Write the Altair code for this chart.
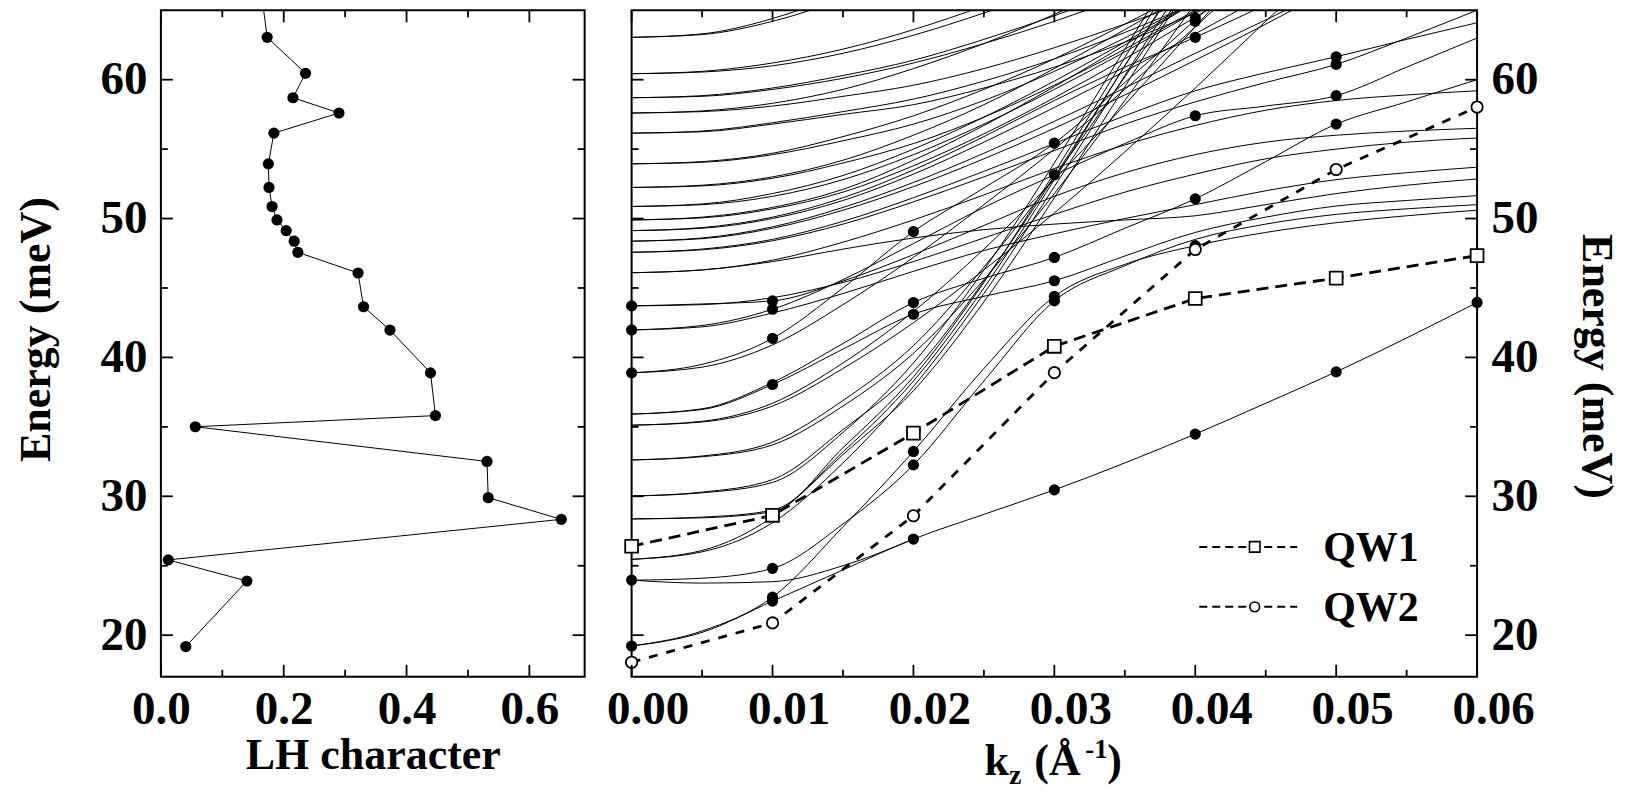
import altair as alt
import pandas as pd

FONT = "Liberation Serif"

# ---------------- left panel: LH character of the k=0 states ----------------
lh_character = [0.163, 0.173, 0.2355, 0.215, 0.290, 0.184, 0.175, 0.176, 0.181,
                0.189, 0.204, 0.217, 0.223, 0.321, 0.330, 0.373, 0.439, 0.447,
                0.056, 0.531, 0.533, 0.652, 0.012, 0.140, 0.0405]
lh_energy = [66.5, 63.05, 60.46, 58.70, 57.60, 56.15, 53.94, 52.24, 50.87,
             49.90, 49.13, 48.37, 47.57, 46.08, 43.65, 41.97, 38.89, 35.81,
             35.01, 32.51, 29.90, 28.34, 25.42, 23.90, 19.18]

# ---------------- right panel: subband dispersion ----------------
k_grid = [0.0, 0.005, 0.01, 0.015, 0.02, 0.025, 0.03, 0.035, 0.04, 0.045, 0.05, 0.055, 0.06]

c01 = [19.22, 20.2, 22.45, 24.7, 26.92, 28.7, 30.46, 32.4, 34.48, 36.7, 38.96, 41.4, 43.96]
c02 = [19.22, 20.3, 22.74, 27.8, 33.23, 39.2, 44.39, 46.7, 48.05, 49.0, 49.7, 50.2, 50.6]
c03 = [23.96, 24.1, 24.81, 28.0, 32.26, 38.3, 44.07, 46.6, 48.5, 49.6, 50.3, 50.7, 51.0]
c04 = [23.96, 23.75, 23.85, 25.0, 26.92]
c05 = [25.46, 26.1, 28.5, 33.0, 37.6, 44.0, 51.5, 59.5, 67.5]
c06 = [25.46, 26.0, 28.1, 32.4, 37.9, 44.6, 52.3, 60.3, 68.3]
c07 = [28.37, 28.5, 29.0, 33.2, 38.3, 45.0, 52.8, 61.0, 69.2]
c08 = [28.37, 28.45, 28.9, 33.5, 38.6, 45.4, 53.3, 61.6, 70.0]
c09 = [30.02, 30.3, 31.2, 34.8, 39.0, 45.5, 53.0, 61.0, 69.0]
c10 = [30.02, 30.25, 31.0, 34.6, 39.6, 46.3, 54.0, 62.2, 70.4]
c11 = [32.62, 32.9, 33.9, 36.9, 40.85, 46.5, 53.0, 60.2, 67.5]
c12 = [32.62, 32.85, 33.7, 36.5, 40.3, 45.6, 51.8, 58.5, 65.5]
c13 = [35.92, 36.3, 38.2, 41.0, 43.95, 45.7, 47.2, 49.3, 51.42, 54.1, 56.8, 58.4, 60.0]
c14 = [35.92, 36.25, 38.05, 40.6, 43.11, 44.4, 45.52, 47.3, 49.0, 50.1, 50.9, 51.3, 51.65]
c15 = [35.12, 35.4, 36.7, 39.6, 43.3, 47.8, 52.8, 58.2, 63.8, 69.5]
c16 = [35.12, 35.35, 36.5, 39.2, 42.5, 46.3, 50.4, 54.8, 59.4, 64.2, 69.0]
c17 = [38.89, 39.5, 41.37, 45.0, 49.06, 52.2, 55.43, 59.8, 64.3, 69.0]
c18 = [41.98, 42.3, 43.47, 45.6, 48.2, 50.8, 53.15, 55.4, 57.4, 58.1, 58.85, 60.9, 63.0]
c19 = [41.98, 42.2, 43.2, 44.6, 46.2, 47.7, 48.9, 50.0, 51.0, 52.0, 52.8, 53.3, 53.7]
c20 = [38.89, 39.3, 40.9, 43.8, 47.2, 51.0, 55.0, 59.3, 63.8, 68.5]
c21 = [43.71, 43.85, 44.07, 45.5, 47.4, 49.5, 51.6, 53.3, 54.6, 55.5, 56.0, 56.3, 56.5]
c22 = [43.71, 43.8, 44.3, 45.4, 46.9, 48.6, 50.3, 51.9, 53.2, 54.3, 55.0, 55.5, 55.8]
c23 = [46.10, 46.3, 47.0, 48.3, 49.9, 51.7, 53.6, 55.3, 56.7, 57.8, 58.5, 58.9, 59.2]
c24 = [46.10, 46.3, 46.9, 47.8, 48.6, 49.2, 49.6, 49.9, 50.2, 51.0, 51.8, 52.4, 52.85]
c25 = [47.57, 47.8, 48.5, 49.8, 51.5, 53.4, 55.4, 57.4, 59.2, 60.5, 61.65, 62.9, 64.1]
c26 = [47.57, 47.75, 48.4, 49.6, 51.2, 53.0, 54.9, 56.8, 58.4, 59.8, 61.1, 63.0, 65.0]
c27 = [48.37, 48.6, 49.4, 50.8, 52.6, 54.7, 57.0, 59.4, 61.9, 64.3, 66.8]
c28 = [48.37, 48.55, 49.3, 50.6, 52.3, 54.3, 56.5, 58.9, 61.4, 64.0, 66.7]
c29 = [49.13, 49.35, 50.1, 51.5, 53.5, 55.9, 58.5, 60.9, 63.05, 65.4, 67.8]
c30 = [49.13, 49.3, 50.0, 51.3, 53.2, 55.5, 58.0, 60.6, 63.3, 66.1]
c31 = [49.90, 50.1, 50.8, 52.1, 54.2, 56.7, 59.5, 62.5, 65.6]
c32 = [49.90, 50.05, 50.7, 51.9, 53.8, 56.1, 58.7, 61.5, 64.5, 67.5]
c33 = [50.87, 51.05, 51.8, 53.1, 55.0, 57.3, 59.9, 62.7, 65.6]
c34 = [50.87, 51.0, 51.6, 52.8, 54.6, 56.8, 59.3, 62.0, 64.9, 67.8]
c35 = [52.24, 52.4, 53.0, 54.2, 56.0, 58.2, 60.8, 63.6, 66.5]
c36 = [52.24, 52.35, 52.9, 54.0, 55.4, 57.3, 59.6, 62.2, 65.0, 67.8]
c37 = [53.94, 54.1, 54.7, 55.9, 57.4, 59.3, 61.5, 64.0, 66.6]
c38 = [53.94, 54.05, 54.6, 55.6, 56.8, 58.5, 60.6, 63.0, 65.6]
c39 = [56.15, 56.3, 56.9, 57.7, 58.6, 59.9, 61.5, 63.4, 65.5]
c40 = [56.15, 56.25, 56.8, 57.5, 58.2, 59.4, 60.9, 62.7, 64.8, 67.0]
c41 = [57.60, 57.75, 58.3, 59.3, 60.8, 62.6, 64.7, 67.0]
c42 = [57.60, 57.7, 58.1, 58.8, 59.6, 60.8, 62.3, 64.0, 65.8]
c43 = [58.70, 58.85, 59.4, 60.3, 61.4, 62.9, 64.6, 66.5]
c44 = [58.70, 58.8, 59.3, 60.1, 61.2, 62.6, 64.2, 66.0]
c45 = [60.43, 60.6, 61.2, 62.2, 63.6, 65.3]
c46 = [60.43, 60.55, 61.0, 61.9, 63.2, 64.8, 66.6]
c47 = [63.05, 63.3, 64.4, 66.2]
c48 = [63.05, 63.25, 64.2, 65.8]

curves = [c01, c02, c03, c04, c05, c06, c07, c08, c09, c10, c11, c12, c13, c14, c15, c16,
          c17, c18, c19, c20, c21, c22, c23, c24, c25, c26, c27, c28, c29, c30, c31, c32,
          c33, c34, c35, c36, c37, c38, c39, c40, c41, c42, c43, c44, c45, c46, c47, c48]

# filled dots on the dispersion
dot_k = [0.0, 0.0, 0.0, 0.0, 0.0,
         0.01, 0.01, 0.01, 0.01, 0.01, 0.01, 0.01,
         0.02, 0.02, 0.02, 0.02, 0.02, 0.02,
         0.03, 0.03, 0.03, 0.03, 0.03, 0.03, 0.03,
         0.04, 0.04, 0.04, 0.04, 0.04, 0.04, 0.04,
         0.05, 0.05, 0.05, 0.05, 0.05,
         0.06]
dot_E = [43.71, 41.98, 38.89, 23.96, 19.22,
         44.07, 43.47, 41.37, 38.05, 24.81, 22.74, 22.45,
         49.06, 43.95, 43.11, 33.23, 32.26, 26.92,
         55.43, 53.15, 47.2, 45.52, 44.39, 44.07, 30.46,
         64.45, 64.2, 63.05, 57.4, 51.42, 48.05, 34.48,
         61.65, 61.1, 58.85, 56.8, 38.96,
         43.96]

# QW1 / QW2 reference series
qw_k = [0.0, 0.01, 0.02, 0.03, 0.04, 0.05, 0.06]
qw1_E = [26.40, 28.63, 34.55, 40.80, 44.24, 45.71, 47.33]
qw2_E = [18.05, 20.88, 28.60, 38.90, 47.77, 53.53, 58.03]
legend_names = ["QW1", "QW2"]

# axis tick values
y_major = [20, 30, 40, 50, 60]
y_minor = [25, 35, 45, 55]
lhx_major = [0.0, 0.2, 0.4, 0.6]
lhx_minor = [0.1, 0.3, 0.5]
kx_major = [0.0, 0.01, 0.02, 0.03, 0.04, 0.05, 0.06]
kx_minor = [0.005, 0.015, 0.025, 0.035, 0.045, 0.055]

# ---------------- layout constants ----------------
H = 667
WL = 424
WR = 846
LABEL_SIZE = 47
TITLE_SIZE = 44
LEGEND_SIZE = 42
DOT = 125

ys = alt.Scale(domain=[17, 65], nice=False, zero=False)
xs_l = alt.Scale(domain=[0, 0.69], nice=False, zero=False)
xs_r = alt.Scale(domain=[0, 0.06], nice=False, zero=False)

one = pd.DataFrame({"d": [0]})

left_x_axis = alt.Axis(values=lhx_major, format=".1f", title="LH character", labelPadding=10,
                       titleY=92, titleBaseline="alphabetic", labelFlush=False)
left_y_axis = alt.Axis(values=y_major, title="Energy (meV)", labelPadding=14, titleAngle=-90,
                       titleX=-111, titleY=319, titleBaseline="alphabetic", titleAlign="center",
                       labelFlush=False)
right_x_axis = alt.Axis(values=kx_major, format=".2f", title=None, labelPadding=10,
                        labelOffset=16, labelFlush=False)
right_y_axis = alt.Axis(orient="right", values=y_major, title="Energy (meV)", labelPadding=14,
                        titleAngle=90, titleX=105, titleY=356, titleBaseline="alphabetic",
                        titleAlign="center", labelFlush=False)


def tick_layers(xmaj, xmin, xscale, xaxis, yaxis, W):
    out = []
    for vals, ln in [(xmaj, 12), (xmin, 7)]:
        df = pd.DataFrame({"v": vals})
        out.append(alt.Chart(df).mark_rule(color="black", strokeWidth=1.8).encode(
            x=alt.X("v:Q", scale=xscale, axis=xaxis), y=alt.value(H), y2=alt.value(H - ln)))
        out.append(alt.Chart(df).mark_rule(color="black", strokeWidth=1.8).encode(
            x=alt.X("v:Q", scale=xscale, axis=xaxis), y=alt.value(0), y2=alt.value(ln)))
    for vals, ln in [(y_major, 12), (y_minor, 7)]:
        df = pd.DataFrame({"v": vals})
        out.append(alt.Chart(df).mark_rule(color="black", strokeWidth=1.8).encode(
            y=alt.Y("v:Q", scale=ys, axis=yaxis), x=alt.value(0), x2=alt.value(ln)))
        out.append(alt.Chart(df).mark_rule(color="black", strokeWidth=1.8).encode(
            y=alt.Y("v:Q", scale=ys, axis=yaxis), x=alt.value(W), x2=alt.value(W - ln)))
    return out


# ---------------- left panel ----------------
left_df = pd.DataFrame({"lh": lh_character, "E": lh_energy, "idx": list(range(len(lh_energy)))})

left_line = alt.Chart(left_df).mark_line(color="black", strokeWidth=1, clip=True).encode(
    x=alt.X("lh:Q", scale=xs_l, axis=left_x_axis),
    y=alt.Y("E:Q", scale=ys, axis=left_y_axis),
    order="idx:Q",
)
left_pts = alt.Chart(left_df).mark_circle(color="black", size=DOT, opacity=1, clip=True).encode(
    x=alt.X("lh:Q", scale=xs_l, axis=left_x_axis),
    y=alt.Y("E:Q", scale=ys, axis=left_y_axis),
)
left = alt.layer(left_line, left_pts,
                 *tick_layers(lhx_major, lhx_minor, xs_l, left_x_axis, left_y_axis, WL)).properties(
    width=WL, height=H)

# ---------------- right panel ----------------
rows = []
for ci, vals in enumerate(curves):
    for i, v in enumerate(vals):
        rows.append({"curve": ci, "k": k_grid[i], "E": v})
curves_df = pd.DataFrame(rows)
dots_df = pd.DataFrame({"k": dot_k, "E": dot_E})
qw1_df = pd.DataFrame({"k": qw_k, "E": qw1_E})
qw2_df = pd.DataFrame({"k": qw_k, "E": qw2_E})

XR = dict(scale=xs_r, axis=right_x_axis)
YR = dict(scale=ys, axis=right_y_axis)

r_lines = alt.Chart(curves_df).mark_line(color="black", strokeWidth=1, clip=True,
                                          interpolate="monotone").encode(
    x=alt.X("k:Q", **XR), y=alt.Y("E:Q", **YR), detail="curve:N", order="k:Q")
r_qw1 = alt.Chart(qw1_df).mark_line(color="black", strokeWidth=2.8, strokeDash=[12, 7], clip=True).encode(
    x=alt.X("k:Q", **XR), y=alt.Y("E:Q", **YR), order="k:Q")
r_qw2 = alt.Chart(qw2_df).mark_line(color="black", strokeWidth=2.8, strokeDash=[9, 9], clip=True).encode(
    x=alt.X("k:Q", **XR), y=alt.Y("E:Q", **YR), order="k:Q")
r_dots = alt.Chart(dots_df).mark_circle(color="black", size=DOT, opacity=1).encode(
    x=alt.X("k:Q", **XR), y=alt.Y("E:Q", **YR))
r_sq = alt.Chart(qw1_df).mark_point(shape="square", filled=True, fill="white", stroke="black",
                                     strokeWidth=1.8, size=165, opacity=1).encode(
    x=alt.X("k:Q", **XR), y=alt.Y("E:Q", **YR))
r_ci = alt.Chart(qw2_df).mark_point(shape="circle", filled=True, fill="white", stroke="black",
                                     strokeWidth=1.8, size=130, opacity=1).encode(
    x=alt.X("k:Q", **XR), y=alt.Y("E:Q", **YR))

# legend (drawn inside the plot, lower right)
leg = []
for row_y, shape, sz, name in [(537, "square", 110, legend_names[0]), (597, "circle", 95, legend_names[1])]:
    leg.append(alt.Chart(one).mark_rule(color="black", strokeWidth=2, strokeDash=[8, 5]).encode(
        x=alt.value(568), x2=alt.value(666), y=alt.value(row_y)))
    leg.append(alt.Chart(one).mark_point(shape=shape, filled=True, fill="white", stroke="black",
                                          strokeWidth=1.6, size=sz, opacity=1).encode(
        x=alt.value(623.5), y=alt.value(row_y)))
    leg.append(alt.Chart(one).mark_text(text=name, font=FONT, fontWeight="bold", fontSize=LEGEND_SIZE,
                                         align="left", baseline="alphabetic", color="black").encode(
        x=alt.value(692), y=alt.value(row_y + 14)))


# x-axis title  k_z (Å^-1)  with sub/superscripts
def txt(s, x, y, size):
    return alt.Chart(one).mark_text(text=s, font=FONT, fontWeight="bold", fontSize=size,
                                    align="left", baseline="alphabetic", color="black").encode(
        x=alt.value(x), y=alt.value(y))


xtitle = [txt("k", 353, 765, TITLE_SIZE), txt("z", 377.5, 774, 28),
          txt("(Å", 403, 765, TITLE_SIZE), txt("-1", 454, 748, 27), txt(")", 476, 765, TITLE_SIZE)]

right = alt.layer(r_lines, r_qw1, r_qw2, r_dots, r_sq, r_ci,
                  *tick_layers(kx_major, kx_minor, xs_r, right_x_axis, right_y_axis, WR),
                  *leg, *xtitle).properties(width=WR, height=H)

chart = alt.hconcat(left, right, spacing=18).properties(
    padding={"left": 6, "top": 0, "right": 0, "bottom": 0}
).configure_view(stroke="black", strokeWidth=2).configure_axis(
    labelFont=FONT, titleFont=FONT, labelFontWeight="bold", titleFontWeight="bold",
    labelFontSize=LABEL_SIZE, titleFontSize=TITLE_SIZE, labelColor="black", titleColor="black",
    grid=False, domain=False, ticks=False, labelOverlap=False,
)

chart.save("out.html", embed_options={"renderer": "svg", "actions": False})
